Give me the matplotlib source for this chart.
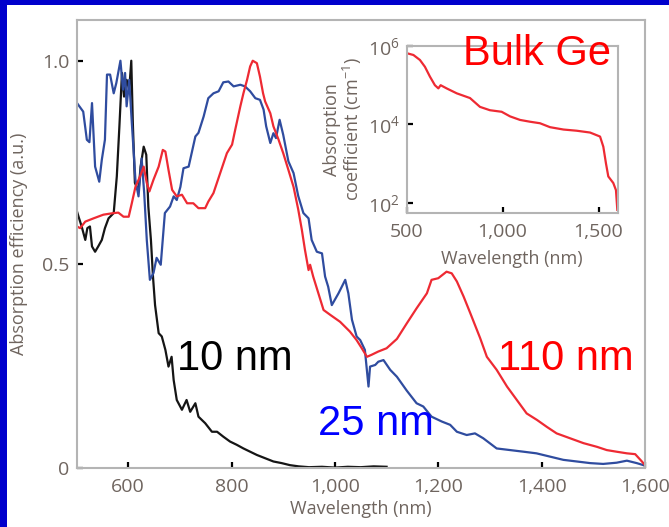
import matplotlib
matplotlib.use("Agg")
import matplotlib.pyplot as plt
from matplotlib.patches import Rectangle
from matplotlib.ticker import FixedLocator, FuncFormatter

plt.rcParams['font.family'] = ['Open Sans', 'DejaVu Sans']
plt.rcParams['mathtext.fontset'] = 'custom'
plt.rcParams['mathtext.rm'] = 'Open Sans'
plt.rcParams['mathtext.default'] = 'regular'

# absorption efficiency spectra of Ge nanowires (normalised)
nm_10 = [500, 504, 510, 517, 521, 526, 530, 536, 542, 549, 555, 562, 572, 578, 583, 588,
         592, 597, 602, 606, 609, 613, 620, 624, 630, 635, 639, 644, 648, 652, 659, 665,
         672, 678, 684, 688, 694, 704, 713, 720, 730, 736, 749, 762, 772, 784, 797, 810,
         823, 836, 849, 865, 881, 897, 913, 930, 950, 975, 1000, 1025, 1050, 1075, 1100]
eff_10 = [0.634, 0.617, 0.593, 0.56, 0.589, 0.593, 0.544, 0.531, 0.544, 0.56, 0.589, 0.613,
          0.626, 0.716, 0.839, 0.97, 0.912, 0.953, 0.929, 1.0, 0.847, 0.70, 0.679, 0.74,
          0.789, 0.769, 0.642, 0.56, 0.47, 0.40, 0.331, 0.323, 0.29, 0.249, 0.273, 0.216,
          0.167, 0.143, 0.167, 0.138, 0.159, 0.126, 0.11, 0.089, 0.089, 0.077, 0.065, 0.057,
          0.048, 0.040, 0.032, 0.024, 0.016, 0.012, 0.007, 0.004, 0.002, 0.003, 0.001,
          0.003, 0.002, 0.004, 0.003]

nm_25 = [501, 513, 520, 525, 530, 536, 544, 549, 555, 559, 565, 572, 577, 585, 590, 594,
         597, 602, 607, 614, 620, 626, 631, 636, 642, 649, 655, 663, 671, 681, 688, 694,
         701, 707, 717, 730, 736, 746, 755, 765, 775, 784, 794, 804, 817, 826, 836, 846,
         855, 862, 867, 875, 881, 886, 893, 900, 910, 920, 929, 939, 949, 955, 965, 975,
         981, 987, 994, 1007, 1020, 1026, 1033, 1042, 1049, 1058, 1065, 1068, 1078, 1084,
         1094, 1107, 1120, 1139, 1158, 1171, 1187, 1207, 1223, 1236, 1255, 1271, 1287,
         1313, 1339, 1365, 1390, 1416, 1442, 1468, 1494, 1519, 1545, 1565, 1584, 1597]
eff_25 = [0.896, 0.875, 0.806, 0.80, 0.896, 0.74, 0.703, 0.757, 0.806, 0.966, 0.966, 0.92,
          0.945, 1.0, 0.929, 0.97, 0.888, 0.953, 0.848, 0.708, 0.667, 0.76, 0.675, 0.56,
          0.462, 0.479, 0.516, 0.499, 0.626, 0.642, 0.667, 0.658, 0.69, 0.736, 0.74, 0.814,
          0.823, 0.863, 0.908, 0.92, 0.925, 0.947, 0.949, 0.937, 0.941, 0.937, 0.925, 0.908,
          0.904, 0.88, 0.839, 0.798, 0.822, 0.81, 0.855, 0.818, 0.753, 0.724, 0.668, 0.626,
          0.613, 0.56, 0.531, 0.527, 0.47, 0.445, 0.40, 0.429, 0.462, 0.429, 0.364, 0.323,
          0.314, 0.29, 0.20, 0.249, 0.253, 0.261, 0.265, 0.241, 0.224, 0.19, 0.159, 0.151,
          0.126, 0.114, 0.106, 0.089, 0.081, 0.085, 0.073, 0.048, 0.044, 0.040, 0.036,
          0.028, 0.020, 0.016, 0.012, 0.010, 0.013, 0.018, 0.012, 0.007]

nm_110 = [501, 507, 517, 533, 552, 572, 581, 591, 601, 607, 614, 623, 630, 636, 641, 649,
          659, 667, 672, 678, 685, 694, 704, 714, 726, 736, 749, 755, 765, 778, 791, 801,
          807, 817, 823, 830, 836, 841, 849, 855, 861, 865, 875, 881, 891, 900, 910, 920,
          929, 936, 942, 949, 952, 958, 968, 978, 991, 1010, 1029, 1042, 1052, 1062, 1071,
          1084, 1100, 1120, 1139, 1158, 1178, 1187, 1200, 1216, 1226, 1236, 1249, 1262,
          1281, 1294, 1313, 1333, 1352, 1371, 1391, 1410, 1429, 1455, 1481, 1507, 1526,
          1545, 1565, 1581, 1594, 1600]
eff_110 = [0.593, 0.589, 0.605, 0.613, 0.622, 0.626, 0.627, 0.617, 0.617, 0.65, 0.69, 0.716,
           0.74, 0.70, 0.679, 0.708, 0.74, 0.781, 0.777, 0.732, 0.683, 0.667, 0.671, 0.65,
           0.65, 0.638, 0.638, 0.654, 0.675, 0.724, 0.773, 0.794, 0.83, 0.888, 0.92, 0.953,
           0.986, 1.0, 0.994, 0.961, 0.92, 0.90, 0.871, 0.839, 0.806, 0.773, 0.732, 0.69,
           0.635, 0.585, 0.536, 0.486, 0.499, 0.47, 0.429, 0.388, 0.376, 0.359, 0.335, 0.314,
           0.294, 0.273, 0.278, 0.286, 0.294, 0.317, 0.355, 0.392, 0.429, 0.462, 0.466,
           0.482, 0.478, 0.458, 0.421, 0.38, 0.319, 0.273, 0.241, 0.20, 0.167, 0.134, 0.118,
           0.101, 0.085, 0.073, 0.061, 0.052, 0.044, 0.04, 0.036, 0.034, 0.016, 0.007]

# bulk Ge absorption coefficient (cm^-1)
nm_bulk = [503, 535, 569, 595, 621, 647, 665, 677, 708, 761, 830, 882, 934, 995, 1039, 1091,
           1143, 1195, 1247, 1317, 1386, 1456, 1508, 1525, 1539, 1551, 1577, 1591, 1598]
alpha_bulk = [6.5e5, 5.9e5, 4.4e5, 2.95e5, 1.66e5, 1.0e5, 8.3e4, 1.0e5, 8.3e4, 6.2e4, 4.7e4,
              2.8e4, 2.3e4, 2.1e4, 1.6e4, 1.3e4, 1.17e4, 1.07e4, 8.5e3, 7.4e3, 6.9e3, 6.2e3,
              4.9e3, 2.7e3, 1.0e3, 470, 320, 210, 66]

x_ticks = [600, 800, 1000, 1200, 1400, 1600]
y_ticks = [0, 0.5, 1.0]
y_ticklabels = ['0', '0.5', '1.0']
inset_x_ticks = [500, 1000, 1500]
inset_y_ticks = [1e2, 1e4, 1e6]

RED = '#ee2a33'
BLUE = '#2f4c9f'
BLACK = '#151515'
LABEL = '#6f655f'
SPINE = '#b4b4b4'


def thousands(v, pos):
    return f'{int(v):,}'


def style_axes(a):
    for s in a.spines.values():
        s.set_color(SPINE)
        s.set_linewidth(1.5)
    a.tick_params(direction='in', length=4, width=1.6, color='black',
                  labelcolor=LABEL, labelsize=14)
    a.tick_params(axis='x', pad=7)
    a.tick_params(axis='y', pad=5)


fig = plt.figure(figsize=(6.69, 5.27), dpi=100)
fig.patch.set_facecolor('#0000cc')
fig.add_artist(Rectangle((7 / 669, 0), 1 - 7 / 669, 522 / 527, transform=fig.transFigure,
                         facecolor='white', edgecolor='none', zorder=-1))

ax = fig.add_axes([76.5 / 669, 59 / 527, 568.5 / 669, 448 / 527])
ax.plot(nm_10, eff_10, color=BLACK, lw=1.6)
ax.plot(nm_25, eff_25, color=BLUE, lw=1.6)
ax.plot(nm_110, eff_110, color=RED, lw=1.6)
ax.set_xlim(500, 1600)
ax.set_ylim(0, 1.1)
ax.xaxis.set_major_locator(FixedLocator(x_ticks))
ax.xaxis.set_major_formatter(FuncFormatter(thousands))
ax.set_yticks(y_ticks)
ax.set_yticklabels(y_ticklabels)
style_axes(ax)
ax.set_xlabel('Wavelength (nm)', fontsize=13, color=LABEL)
ax.set_ylabel('Absorption efficiency (a.u.)', fontsize=13, color=LABEL)
ax.xaxis.set_label_coords(0.5, -0.072)
ax.yaxis.set_label_coords(-0.085, 0.5)

big = dict(family=['Liberation Sans', 'DejaVu Sans'], fontsize=30, va='baseline')
ax.text(695, 0.241, '10 nm', color='black', **big)
ax.text(1315, 0.241, '110 nm', color='#ff0000', **big)
ax.text(967, 0.081, '25 nm', color='#0000ff', **big)

ins = fig.add_axes([406.7 / 669, 314 / 527, 211 / 669, 167 / 527])
ins.plot(nm_bulk, alpha_bulk, color=RED, lw=1.6)
ins.set_yscale('log')
ins.set_xlim(500, 1600)
ins.set_ylim(10 ** 1.74, 1e6)
ins.xaxis.set_major_locator(FixedLocator(inset_x_ticks))
ins.xaxis.set_major_formatter(FuncFormatter(thousands))
ins.yaxis.set_major_locator(FixedLocator(inset_y_ticks))
ins.yaxis.set_minor_locator(FixedLocator([]))
ins.set_yticklabels(['10$^{2}$', '10$^{4}$', '10$^{6}$'])
style_axes(ins)
ins.set_xlabel('Wavelength (nm)', fontsize=13, color=LABEL)
ins.set_ylabel('Absorption\ncoefficient (cm$^{-1}$)', fontsize=13, color=LABEL,
               linespacing=1.0)
ins.xaxis.set_label_coords(0.5, -0.22)
ins.yaxis.set_label_coords(-0.2, 0.5)
ins.text(0.267, 0.886, 'Bulk Ge', transform=ins.transAxes, color='#ff0000', **big)

fig.savefig('out.png', dpi=100, facecolor=fig.get_facecolor())
